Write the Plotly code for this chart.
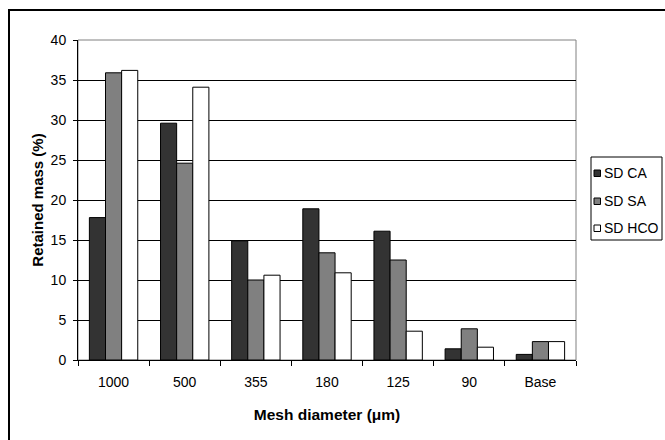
import plotly.graph_objects as go

categories = ["1000", "500", "355", "180", "125", "90", "Base"]
sd_ca = [17.8, 29.6, 14.9, 18.9, 16.1, 1.4, 0.7]
sd_sa = [35.9, 24.6, 10.0, 13.4, 12.5, 3.9, 2.3]
sd_hco = [36.2, 34.1, 10.6, 10.9, 3.6, 1.6, 2.3]
series_names = ["SD CA", "SD SA", "SD HCO"]
series_colors = ["#333333", "#808080", "#ffffff"]
series_values = [sd_ca, sd_sa, sd_hco]

W, H = 665, 440
L, R, T, B = 78, 89, 40, 80
PW, PH = W - L - R, H - T - B


def px(x):
    return (x - L) / PW


def py(y):
    return (H - B - y) / PH


fig = go.Figure()
for name, vals, col in zip(series_names, series_values, series_colors):
    fig.add_trace(go.Bar(x=categories, y=vals, name=name,
                         marker=dict(color=col, line=dict(color="#000000", width=1))))

font_family = "Liberation Sans, Arial, sans-serif"

shapes = [
    dict(type="rect", xref="paper", yref="paper", x0=0, x1=1, y0=0, y1=1,
         line=dict(color="#808080", width=1), layer="below"),
    dict(type="rect", xref="paper", yref="paper", x0=px(9), x1=px(700), y0=py(480), y1=py(10),
         line=dict(color="#000", width=2), layer="above"),
    # legend box
    dict(type="rect", xref="paper", yref="paper", x0=px(591), x1=px(662), y0=py(240), y1=py(157),
         line=dict(color="#000", width=1), fillcolor="white", layer="above"),
]
annotations = []
row_y = [173, 201, 228]
for name, col, ry in zip(series_names, series_colors, row_y):
    shapes.append(dict(type="rect", xref="paper", yref="paper",
                       x0=px(594), x1=px(600.5), y0=py(ry + 3.5), y1=py(ry - 3),
                       line=dict(color="#000", width=1), fillcolor=col, layer="above"))
    annotations.append(dict(text=name, xref="paper", yref="paper", x=px(602), y=py(ry),
                            xanchor="left", yanchor="middle", showarrow=False,
                            font=dict(size=14, family=font_family, color="#000")))

fig.update_layout(
    width=W, height=H,
    margin=dict(l=L, r=R, t=T, b=B),
    paper_bgcolor="white", plot_bgcolor="white",
    barmode="group", bargap=0.32, bargroupgap=0,
    font=dict(family=font_family, size=14, color="#000"),
    showlegend=False,
    xaxis=dict(
        title=dict(text="<b>Mesh diameter (μm)</b>", standoff=20, font=dict(size=15.5)),
        showline=True, linecolor="#000", linewidth=1,
        ticks="outside", ticklen=5, tickcolor="#000", tickson="boundaries",
        ticklabelstandoff=9,
        showgrid=False, tickfont=dict(size=14), automargin=False,
    ),
    yaxis=dict(
        title=dict(text="<b>Retained mass (%)</b>", standoff=3, font=dict(size=15)),
        range=[0, 40], dtick=5,
        showline=True, linecolor="#000", linewidth=1,
        ticks="outside", ticklen=4, tickcolor="#000",
        ticklabelstandoff=4,
        showgrid=True, gridcolor="#000", gridwidth=1,
        zeroline=False, tickfont=dict(size=14), automargin=False,
    ),
    shapes=shapes,
    annotations=annotations,
)

fig.write_html("out.html", config={"displayModeBar": False},
               post_script="document.body.style.margin='0';")
